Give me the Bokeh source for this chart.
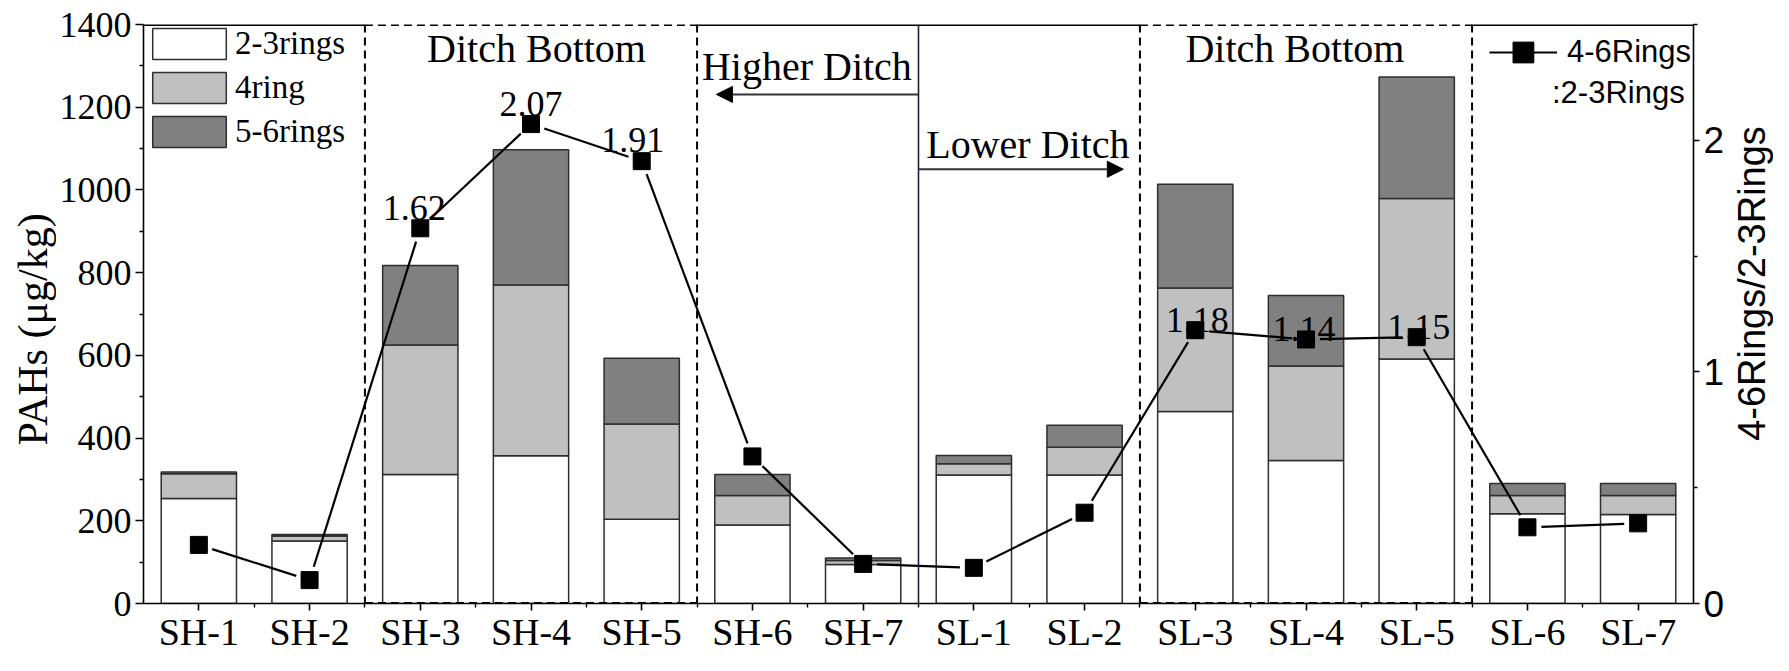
import math
from bokeh.plotting import figure
from bokeh.layouts import row
from bokeh.models import (Range1d, LinearAxis, FixedTicker, Legend, LegendItem,
                          Arrow, NormalHead, Label, ColumnDataSource, Span)
from bokeh.embed import file_html
from bokeh.resources import INLINE
from bokeh.core.properties import value

# ---------------- data ----------------
samples = ["SH-1", "SH-2", "SH-3", "SH-4", "SH-5", "SH-6", "SH-7",
           "SL-1", "SL-2", "SL-3", "SL-4", "SL-5", "SL-6", "SL-7"]
rings_23 = [254, 151, 312, 357, 204, 190, 94, 311, 311, 464, 346, 591, 217, 215]
rings_4 = [60, 12, 313, 413, 230, 71, 10, 27, 67, 299, 228, 388, 44, 46]
rings_56 = [4, 4, 192, 327, 159, 51, 6, 20, 53, 251, 171, 294, 29, 29]
ratio = [0.253, 0.101, 1.62, 2.07, 1.91, 0.635, 0.171, 0.154, 0.392, 1.18, 1.14, 1.15, 0.329, 0.346]
ratio_labels = ["", "", "1.62", "2.07", "1.91", "", "", "", "", "1.18", "1.14", "1.15", "", ""]
series_names = ["2-3rings", "4ring", "5-6rings"]
left_ticks = [0, 200, 400, 600, 800, 1000, 1200, 1400]
right_ticks = [0, 1, 2]
box_bounds = [(2.5, 5.5), (9.5, 12.5)]   # "Ditch Bottom" boxes (category boundaries)
divider = 7.5                             # Higher / Lower ditch boundary
left_title = "PAHs (μg/kg)"
right_title = "4-6Rings/2-3Rings"

SERIF = "Liberation Serif"
SANS = "Liberation Sans"

H = 655
WL, WR = 56, 46            # side strips holding the axis titles
W = 1773 - WL - WR         # main figure
BL, BR, BT, BB = 87, 30, 24, 46
xs = list(range(1, len(samples) + 1))

p = figure(width=W, height=H, x_range=Range1d(0.5, 14.5), y_range=Range1d(0, 1400),
           output_backend="svg", toolbar_location=None,
           min_border_left=BL, min_border_right=BR, min_border_top=BT, min_border_bottom=BB)
p.extra_y_ranges = {"ratio": Range1d(0, 2.5)}
p.outline_line_color = None
p.xgrid.grid_line_color = None
p.ygrid.grid_line_color = None
p.background_fill_color = "white"
p.border_fill_color = "white"

# ---------------- bars ----------------
src = ColumnDataSource(dict(x=xs, r23=rings_23, r4=rings_4, r56=rings_56))
bars = p.vbar_stack(["r23", "r4", "r56"], x="x", width=0.68, source=src,
                    fill_color=["white", "#C0C0C0", "#808080"],
                    line_color="#2e2e2e", line_width=1.5)

# ---------------- frame pieces / separators ----------------
solid_x0 = [0.5, box_bounds[0][1], box_bounds[1][1]]
solid_x1 = [box_bounds[0][0], box_bounds[1][0], 14.5]
p.segment(x0=solid_x0, y0=[1400] * 3, x1=solid_x1, y1=[1400] * 3,
          line_color="black", line_width=3)

for (a, b) in box_bounds:
    for xv in (a, b):
        p.add_layout(Span(location=xv, dimension="height", line_color="black",
                          line_width=2, line_dash="8 5"))
    p.segment(x0=[a, a], y0=[0, 1400], x1=[b, b], y1=[0, 1400],
              line_color="black", line_width=3, line_dash="8 5")

p.add_layout(Span(location=divider, dimension="height", line_color="#1e1e3c", line_width=1.6))

# ---------------- ratio line with gaps ----------------
fw = W - BL - BR
fh = H - BT - 51
pxx = fw / 14.0
pxy = fh / 2.5
gap = 14.0
sx0, sy0, sx1, sy1 = [], [], [], []
for i in range(len(xs) - 1):
    x0, y0, x1, y1 = xs[i], ratio[i], xs[i + 1], ratio[i + 1]
    dx, dy = (x1 - x0) * pxx, (y1 - y0) * pxy
    L = math.hypot(dx, dy)
    ux, uy = dx / L, dy / L
    sx0.append(x0 + ux * gap / pxx)
    sy0.append(y0 + uy * gap / pxy)
    sx1.append(x1 - ux * gap / pxx)
    sy1.append(y1 - uy * gap / pxy)
p.segment(x0=sx0, y0=sy0, x1=sx1, y1=sy1, line_color="black", line_width=2.2,
          y_range_name="ratio")
p.scatter(xs, ratio, marker="square", size=17, fill_color="black", line_color="black",
          y_range_name="ratio")

lab_dx = [0, 0, -6, 0, -9, 0, 0, 0, 0, 2, -2, 2, 0, 0]
lab_dy = [0, 0, -20, -20, -21, 0, 0, 0, 0, -10, -10, -10, 0, 0]
lsrc = ColumnDataSource(dict(x=xs, y=ratio, t=ratio_labels, dx=lab_dx, dy=lab_dy))
p.text(x="x", y="y", text="t", x_offset="dx", y_offset="dy", source=lsrc,
       y_range_name="ratio", text_font=value(SERIF), text_font_size="36px",
       text_align="center", text_baseline="alphabetic", text_color="black")

# ---------------- annotations ----------------
def add_label(x, y, t, align, size="40px", font=SERIF):
    p.add_layout(Label(x=x, y=y, text=t, text_align=align, text_baseline="middle",
                       text_font=font, text_font_size=size, text_color="black"))

add_label(4.05, 1343, "Ditch Bottom", "center")
add_label(10.9, 1343, "Ditch Bottom", "center")
add_label(7.44, 1298, "Higher Ditch", "right")
add_label(7.57, 1110, "Lower Ditch", "left")

p.add_layout(Arrow(end=NormalHead(size=16, fill_color="black", line_color="black"),
                   x_start=divider, y_start=1231, x_end=5.675, y_end=1231,
                   line_color="#333333", line_width=2))
p.add_layout(Arrow(end=NormalHead(size=16, fill_color="black", line_color="black"),
                   x_start=divider, y_start=1050, x_end=9.35, y_end=1050,
                   line_color="#333333", line_width=2))

# ---------------- axes ----------------
xa = p.xaxis[0]
xa.ticker = FixedTicker(ticks=xs, minor_ticks=[x + 0.5 for x in xs[:-1]])
xa.major_label_overrides = {x: s for x, s in zip(xs, samples)}
xa.major_label_text_font = SERIF
xa.major_label_text_font_size = "38px"
xa.major_label_standoff = 0

ya = p.yaxis[0]
ya.ticker = FixedTicker(ticks=left_ticks, minor_ticks=list(range(100, 1400, 200)))
ya.major_label_text_font = SERIF
ya.major_label_text_font_size = "36px"
ya.major_label_standoff = 4

ra = LinearAxis(y_range_name="ratio",
                ticker=FixedTicker(ticks=right_ticks, minor_ticks=[0.5, 1.5, 2.5]))
ra.major_label_text_font = SANS
ra.major_label_text_font_size = "37px"
ra.major_label_standoff = 4
p.add_layout(ra, "right")

for ax in (xa, ya, ra):
    ax.axis_line_width = 1.6
    ax.axis_line_color = "black"
    ax.major_tick_line_width = 1.6
    ax.minor_tick_line_width = 1.4
    ax.major_tick_line_color = "black"
    ax.minor_tick_line_color = "black"
    ax.major_tick_in = 0
    ax.major_tick_out = 8
    ax.minor_tick_in = 0
    ax.minor_tick_out = 4
    ax.major_label_text_color = "black"
ra.major_tick_out = 6
xa.major_tick_out = 7

# ---------------- legends ----------------
leg1 = Legend(items=[LegendItem(label=n, renderers=[r]) for n, r in zip(series_names, bars)],
              location="top_left", glyph_width=92, glyph_height=39, label_height=39,
              spacing=5, margin=0, padding=1, label_standoff=0,
              label_text_font=SERIF, label_text_font_size="33px", label_text_color="black",
              background_fill_alpha=0, border_line_color=None)
p.add_layout(leg1)

nan = float("nan")
leg_line = p.line(x=[nan, nan], y=[nan, nan], line_color="black", line_width=2)
leg_mark = p.scatter(x=[nan], y=[nan], marker="square", size=25, fill_color="black",
                     line_color="black")
leg2 = Legend(items=[LegendItem(label="4-6Rings", renderers=[leg_line, leg_mark])],
              location="top_right", glyph_width=68, glyph_height=52, label_height=52,
              margin=2, padding=2, label_standoff=10,
              label_text_font=SANS, label_text_font_size="31px", label_text_color="black",
              background_fill_alpha=0, border_line_color=None)
p.add_layout(leg2)
add_label(14.42, 1236, ":2-3Rings", "right", size="31px", font=SANS)

# ---------------- axis-title strips ----------------
def title_strip(width, text, font, size, cx, cy):
    s = figure(width=width, height=H, x_range=Range1d(0, width), y_range=Range1d(0, H),
               x_axis_type=None, y_axis_type=None, output_backend="svg",
               toolbar_location=None, min_border=0)
    s.min_border_left = s.min_border_right = s.min_border_top = s.min_border_bottom = 0
    s.outline_line_color = None
    s.background_fill_color = "white"
    s.border_fill_color = "white"
    s.text(x=[cx], y=[H - cy], text=[text], angle=math.pi / 2,
           text_font=value(font), text_font_size=size, text_color="black",
           text_align="center", text_baseline="middle")
    return s

pl = title_strip(WL, left_title, SERIF, "42px", 32, 345)
pr = title_strip(WR, right_title, SANS, "38px", 24.5, 293)

layout = row(pl, p, pr)
open("out.html", "w").write(file_html(layout, INLINE))
